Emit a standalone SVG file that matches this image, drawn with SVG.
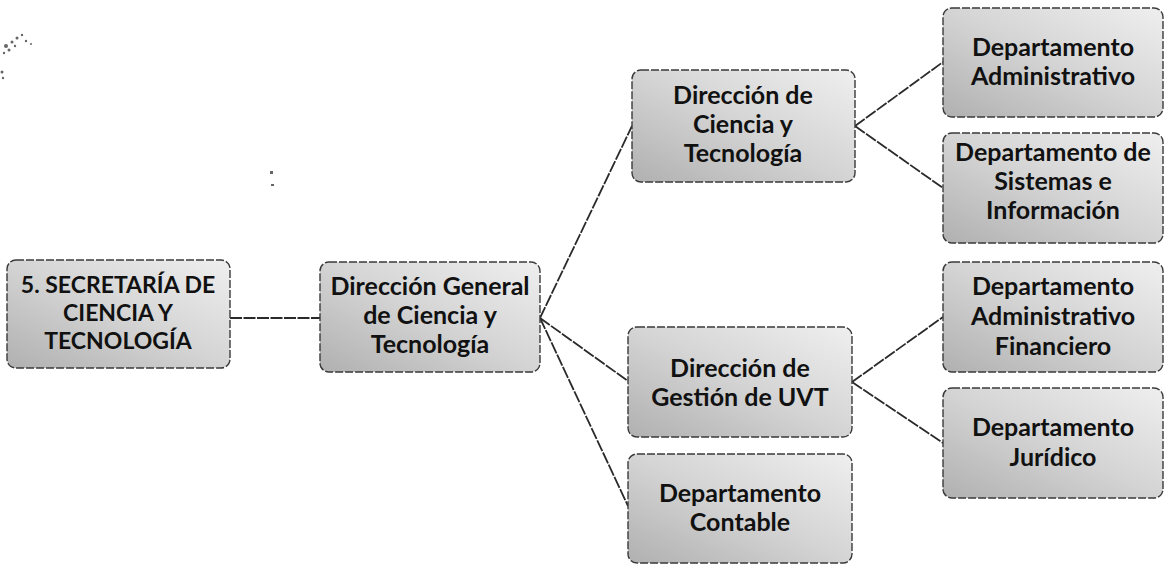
<svg xmlns="http://www.w3.org/2000/svg" width="1174" height="573" viewBox="0 0 1174 573">
<defs>
<linearGradient id="g" x1="0" y1="1" x2="1" y2="0">
<stop offset="0" stop-color="#b0b0b0"/>
<stop offset="0.5" stop-color="#d4d4d4"/>
<stop offset="1" stop-color="#efefef"/>
</linearGradient>
<style>
.box{fill:url(#g);stroke:#3a3a3a;stroke-width:1.4;stroke-dasharray:8 2}
.t{font-family:Lato,"Liberation Sans",sans-serif;font-weight:bold;font-size:25px;fill:#111;text-anchor:middle}
.s{font-size:23px}
.c{stroke:#2a2a2a;stroke-width:1.8;fill:none;stroke-dasharray:12 1.5}
</style>
</defs>
<rect width="1174" height="573" fill="#fff"/>
<g id="artifacts" fill="#666">
<circle cx="6" cy="46" r="2"/><circle cx="12" cy="42" r="1.5"/><circle cx="17" cy="38" r="1.5"/>
<circle cx="22" cy="35" r="1.2"/><circle cx="9" cy="50" r="1.5"/><circle cx="15" cy="46" r="1.2"/>
<circle cx="26" cy="41" r="1.2"/><circle cx="31" cy="44" r="1"/><circle cx="4" cy="53" r="1.2"/>
<circle cx="2" cy="72" r="1.5"/><circle cx="3" cy="78" r="1.2"/>
<rect x="270" y="171" width="3" height="3"/>
<rect x="271" y="184" width="3" height="2"/>
</g>
<g id="connectors">
<line class="c" x1="230" y1="318" x2="320" y2="318"/>
<line class="c" x1="540" y1="318" x2="632" y2="126"/>
<line class="c" x1="540" y1="318" x2="628" y2="381"/>
<line class="c" x1="540" y1="318" x2="628" y2="506"/>
<line class="c" x1="855" y1="126" x2="943" y2="62"/>
<line class="c" x1="855" y1="126" x2="943" y2="188"/>
<line class="c" x1="852" y1="382" x2="943" y2="317"/>
<line class="c" x1="852" y1="382" x2="943" y2="443"/>
</g>
<g id="n1">
<rect class="box" x="7" y="260" width="223" height="108" rx="9"/>
<text class="t s" x="118" y="293">5. SECRETARÍA DE</text>
<text class="t s" x="118" y="321">CIENCIA Y</text>
<text class="t s" x="118" y="349">TECNOLOGÍA</text>
</g>
<g id="n2">
<rect class="box" x="320" y="262" width="220" height="110" rx="9"/>
<text class="t" x="430" y="295">Dirección General</text>
<text class="t" x="430" y="324">de Ciencia y</text>
<text class="t" x="430" y="353">Tecnología</text>
</g>
<g id="n3">
<rect class="box" x="632" y="70" width="223" height="112" rx="9"/>
<text class="t" x="743" y="104">Dirección de</text>
<text class="t" x="743" y="133">Ciencia y</text>
<text class="t" x="743" y="162">Tecnología</text>
</g>
<g id="n4">
<rect class="box" x="628" y="327" width="224" height="110" rx="9"/>
<text class="t" x="740" y="377">Dirección de</text>
<text class="t" x="740" y="406">Gestión de UVT</text>
</g>
<g id="n5">
<rect class="box" x="628" y="454" width="224" height="109" rx="9"/>
<text class="t" x="740" y="502">Departamento</text>
<text class="t" x="740" y="531">Contable</text>
</g>
<g id="n6">
<rect class="box" x="943" y="8" width="220" height="109" rx="9"/>
<text class="t" x="1053" y="56">Departamento</text>
<text class="t" x="1053" y="85">Administrativo</text>
</g>
<g id="n7">
<rect class="box" x="943" y="133" width="220" height="110" rx="9"/>
<text class="t" x="1053" y="161">Departamento de</text>
<text class="t" x="1053" y="190">Sistemas e</text>
<text class="t" x="1053" y="219">Información</text>
</g>
<g id="n8">
<rect class="box" x="943" y="262" width="220" height="110" rx="9"/>
<text class="t" x="1053" y="295">Departamento</text>
<text class="t" x="1053" y="325">Administrativo</text>
<text class="t" x="1053" y="355">Financiero</text>
</g>
<g id="n9">
<rect class="box" x="943" y="388" width="220" height="110" rx="9"/>
<text class="t" x="1053" y="436">Departamento</text>
<text class="t" x="1053" y="466">Jurídico</text>
</g>
</svg>
